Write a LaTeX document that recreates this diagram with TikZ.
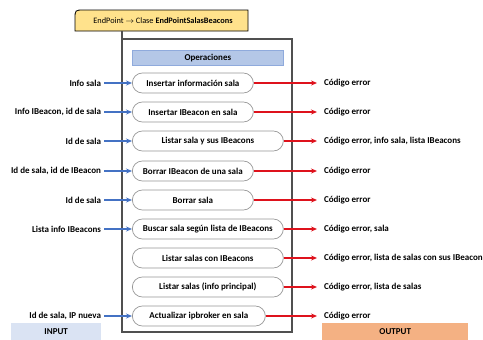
\documentclass[tikz,border=0pt]{standalone}
\usepackage{fontspec}
\setmainfont{Carlito}
\usetikzlibrary{arrows.meta}
\definecolor{inblue}{RGB}{68,114,196}
\definecolor{outred}{RGB}{222,18,28}
\definecolor{headfill}{RGB}{180,199,231}
\definecolor{headline}{RGB}{143,170,220}
\definecolor{infill}{RGB}{218,227,243}
\definecolor{outfill}{RGB}{244,177,131}
\definecolor{tabfill}{RGB}{255,226,140}
\definecolor{frame}{RGB}{80,80,80}
\definecolor{pillline}{RGB}{150,150,150}
\tikzset{
  lbl/.style={font=\bfseries\fontsize{9}{10.8}\selectfont},
  opbox/.style={lbl, draw=pillline, line width=0.7pt, fill=white, rounded corners=10pt,
    minimum height=20pt, inner sep=0pt, anchor=west},
  inlbl/.style={lbl, inner sep=1pt, outer xsep=2pt, anchor=east},
  outlbl/.style={lbl, inner sep=1pt, outer xsep=6pt, anchor=west},
  inarrow/.style={draw=inblue, line width=1.1pt, -{Stealth[length=6pt,width=5pt]}},
  outarrow/.style={draw=outred, line width=1.1pt, -{Stealth[length=6pt,width=5pt]}},
  tagbox/.style={lbl, minimum height=17pt, inner sep=0pt, anchor=north west}
}
\begin{document}
\begin{tikzpicture}[x=1pt,y=-1pt]
\useasboundingbox (0,0) rectangle (483,340);

% outer frame of the operations panel
\draw[frame, line width=1.3pt] (122,39) rectangle (292,332);

% title tab
\draw[fill=tabfill, line width=0.8pt] (75,31) -- (75,19) .. controls (75,10) .. (84,10) -- (248,10) -- (248,31) -- cycle;
\draw[frame, line width=1.3pt] (122,31) -- (122,39);
\node[font=\fontsize{8.3}{10}\selectfont] (title) at (163,21) {EndPoint $\rightarrow$ Clase \textbf{EndPointSalasBeacons}};

% panel header
\node[lbl, draw=headline, fill=headfill, line width=0.7pt, minimum width=151pt, minimum height=15pt,
  inner sep=0pt, anchor=north west] (head) at (132,50) {Operaciones};

% operations
\node[opbox, minimum width=121pt] (op1) at (132,83)  {Insertar información sala};
\node[opbox, minimum width=121pt] (op2) at (132,112) {Insertar IBeacon en sala};
\node[opbox, minimum width=151pt] (op3) at (132,141) {Listar sala y sus IBeacons};
\node[opbox, minimum width=121pt] (op4) at (132,171) {Borrar IBeacon de una sala};
\node[opbox, minimum width=121pt] (op5) at (132,200) {Borrar sala};
\node[opbox, minimum width=151pt] (op6) at (132,229) {Buscar sala según lista de IBeacons};
\node[opbox, minimum width=151pt] (op7) at (132,258) {Listar salas con IBeacons};
\node[opbox, minimum width=151pt] (op8) at (132,287) {Listar salas (info principal)};
\node[opbox, minimum width=133pt] (op9) at (132,316) {Actualizar ipbroker en sala};

% inputs
\node[inlbl] (in1) at (104,83)  {Info sala};
\node[inlbl] (in2) at (104,112) {Info IBeacon, id de sala};
\node[inlbl] (in3) at (104,141) {Id de sala};
\node[inlbl] (in4) at (104,171) {Id de sala, id de IBeacon};
\node[inlbl] (in5) at (104,200) {Id de sala};
\node[inlbl] (in6) at (104,229) {Lista info IBeacons};
\node[inlbl] (in9) at (104,316) {Id de sala, IP nueva};

\foreach \i in {1,2,3,4,5,6,9} \draw[inarrow] (in\i) -- (op\i);

% outputs
\node[outlbl] (out1) at (317,83)  {Código error};
\node[outlbl] (out2) at (317,112) {Código error};
\node[outlbl] (out3) at (317,141) {Código error, info sala, lista IBeacons};
\node[outlbl] (out4) at (317,171) {Código error};
\node[outlbl] (out5) at (317,200) {Código error};
\node[outlbl] (out6) at (317,229) {Código error, sala};
\node[outlbl] (out7) at (317,258) {Código error, lista de salas con sus IBeacon};
\node[outlbl] (out8) at (317,287) {Código error, lista de salas};
\node[outlbl] (out9) at (317,316) {Código error};

\foreach \i in {1,...,9} \draw[outarrow] (op\i) -- (out\i);

% column tags
\node[tagbox, fill=infill, minimum width=90pt] (intag) at (11,323) {INPUT};
\node[tagbox, fill=outfill, minimum width=146pt] (outtag) at (322,323) {OUTPUT};
\end{tikzpicture}
\end{document}
